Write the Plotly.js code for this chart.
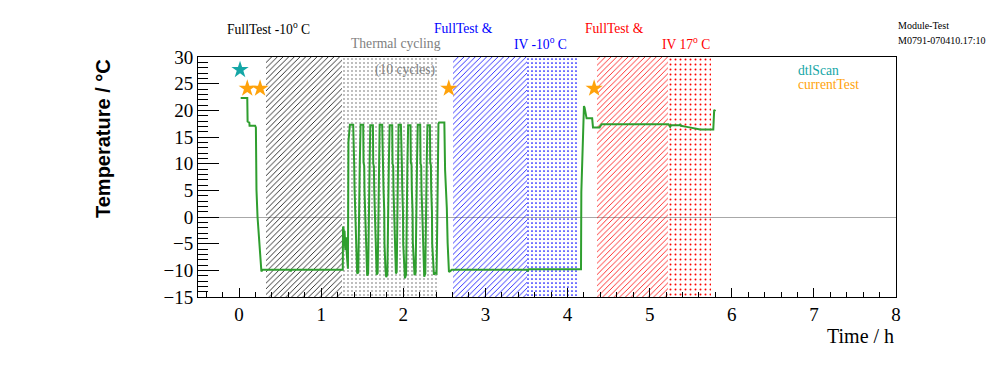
<!DOCTYPE html>
<html>
<head>
<meta charset="utf-8">
<script src="https://cdn.plot.ly/plotly-3.0.1.min.js"></script>
<style>html,body{margin:0;padding:0;background:#fff;}#chart{width:996px;height:372px;}</style>
</head>
<body>
<div id="chart"></div>
<script>
// ---- data ----
var timeH = [
  0.020, 0.100, 0.104, 0.125, 0.128, 0.196, 0.205, 0.207, 0.212, 0.225, 0.245, 0.258, 0.272, 0.285, 0.620, 0.630, 0.640, 1.255,
  1.263, 1.266, 1.274, 1.278, 1.285, 1.294, 1.303, 1.312, 1.318, 1.326, 1.332, 1.350,
  1.390, 1.394, 1.402, 1.406, 1.415, 1.418, 1.430, 1.438, 1.452, 1.458, 1.470, 1.480,
  1.512, 1.516, 1.524, 1.528, 1.537, 1.540, 1.552, 1.560, 1.572, 1.578, 1.590, 1.598,
  1.630, 1.634, 1.642, 1.646, 1.654, 1.657, 1.668, 1.676, 1.688, 1.694, 1.704, 1.712,
  1.743, 1.747, 1.755, 1.759, 1.768, 1.771, 1.783, 1.792, 1.806, 1.812, 1.824, 1.834,
  1.865, 1.869, 1.877, 1.881, 1.889, 1.892, 1.903, 1.910, 1.920, 1.926, 1.934, 1.942,
  1.971, 1.975, 1.983, 1.987, 1.996, 1.999, 2.011, 2.020, 2.034, 2.040, 2.050, 2.059,
  2.088, 2.092, 2.100, 2.104, 2.113, 2.116, 2.128, 2.137, 2.150, 2.156, 2.167, 2.176,
  2.206, 2.210, 2.218, 2.222, 2.231, 2.234, 2.246, 2.255, 2.268, 2.274, 2.285, 2.294,
  2.324, 2.328, 2.336, 2.340, 2.349, 2.352, 2.364, 2.373, 2.392, 2.405, 2.412, 2.420, 2.428, 2.436,
  2.500, 2.509, 2.530, 2.540, 2.556, 2.575, 2.590, 3.505, 3.515, 3.525, 4.164,
  4.168, 4.186, 4.200, 4.208, 4.218, 4.232, 4.300, 4.305, 4.310, 4.390, 4.415,
  5.229, 5.250, 5.262, 5.365, 5.371, 5.380, 5.453, 5.575, 5.615, 5.775, 5.786, 5.800
];
var tempC = [
  22.3, 22.3, 17.9, 17.7, 17.1, 17.1, 16.8, 13.2, 5.1, 0.0, -5.0, -8.7, -10.2, -9.9, -9.9, -10.2, -9.9, -9.9,
  -9.9, -1.8, -2.3, -5.5, -2.6, -6.2, -3.8, -7.0, -9.4, -9.7, 14.1, 17.3,
  17.3, 10.1, 9.8, 5.5, 1.0, -4.9, -9.4, -10.6, -10.4, 0.2, 10.0, 17.3,
  17.3, 10.2, 9.6, 4.8, 0.5, -5.2, -9.6, -11.0, -10.6, -0.5, 9.8, 17.2,
  17.2, 10.0, 9.5, 5.0, 0.8, -4.6, -9.2, -10.8, -10.5, 0.0, 10.1, 17.3,
  17.3, 10.3, 9.7, 5.2, 1.2, -5.0, -9.8, -11.3, -10.7, 0.4, 10.0, 17.2,
  17.2, 10.0, 9.6, 4.9, 0.6, -4.8, -9.5, -10.6, -10.3, 0.1, 9.9, 17.3,
  17.3, 10.1, 9.7, 5.3, 0.9, -5.1, -9.7, -11.5, -10.8, -0.2, 10.0, 17.2,
  17.2, 10.2, 9.8, 5.0, 1.1, -4.7, -9.3, -10.9, -10.5, 0.3, 10.1, 17.3,
  17.3, 10.0, 9.6, 5.1, 0.7, -4.9, -9.6, -11.2, -10.6, 0.0, 9.9, 17.2,
  17.2, 10.1, 9.7, 5.0, 0.9, -5.0, -9.5, -10.8, -10.5, -10.6, -3.0, 10.0, 17.5, 17.7,
  17.7, 8.8, 1.7, -4.9, -10.3, -10.1, -9.9, -9.9, -10.2, -9.8, -9.8,
  4.7, 16.9, 20.8, 20.5, 19.9, 18.5, 18.5, 16.9, 16.8, 16.8, 17.4,
  17.4, 16.9, 17.2, 17.2, 17.4, 17.1, 16.9, 16.6, 16.4, 16.4, 20.1, 19.8
];

var regionStart = [0.325, 1.251, 2.603, 3.504, 4.357, 5.229];
var regionEnd   = [1.251, 2.430, 3.504, 4.141, 5.229, 5.745];
var regionShape = ['/', '.', '/', '.', '/', '.'];
var regionColor = ['#000000', '#a0a0a0', '#0000ff', '#0000ff', '#ff0000', '#ff0000'];

var dtlScanTime = [0.012];
var dtlScanTemp = [27.6];
var currentTestTime = [0.100, 0.256, 2.554, 4.324];
var currentTestTemp = [24.1, 24.1, 24.1, 24.1];

var xTickVals = [0, 1, 2, 3, 4, 5, 6, 7, 8];
var yTickVals = [-15, -10, -5, 0, 5, 10, 15, 20, 25, 30];

// ---- build ----
var barX = [], barW = [], barY = [], barBase = [];
for (var i = 0; i < regionStart.length; i++) {
  barX.push((regionStart[i] + regionEnd[i]) / 2);
  barW.push(regionEnd[i] - regionStart[i]);
  barBase.push(-15);
  barY.push(45);
}

var serif = 'Liberation Serif, Times New Roman, serif';

var traces = [
  {
    type: 'bar', x: barX, y: barY, base: barBase, width: barW,
    marker: {
      color: 'rgba(0,0,0,0)',
      line: {width: 0},
      pattern: {shape: regionShape, fgcolor: regionColor, bgcolor: 'rgba(0,0,0,0)', fgopacity: 1,
                size: [4, 4, 4, 4, 4, 5], solidity: [0.2, 0.16, 0.2, 0.14, 0.2, 0.12], fillmode: 'overlay'}
    },
    hoverinfo: 'skip', showlegend: false
  },
  {
    type: 'scatter', mode: 'lines', x: timeH, y: tempC,
    line: {color: '#2f9e2f', width: 2}, showlegend: false
  },
  {
    type: 'scatter', mode: 'markers', x: dtlScanTime, y: dtlScanTemp,
    marker: {symbol: 'star', size: 13, color: '#14a6a6'}, showlegend: false
  },
  {
    type: 'scatter', mode: 'markers', x: currentTestTime, y: currentTestTemp,
    marker: {symbol: 'star', size: 13, color: '#ffa20a'}, showlegend: false
  }
];

function ann(text, x, y, color, size, xanchor) {
  return {text: text, xref: 'paper', yref: 'paper', x: x, y: y, showarrow: false,
          xanchor: xanchor || 'center', yanchor: 'middle',
          font: {family: serif, size: size, color: color}};
}

var annotations = [
  ann('FullTest -10<sup>o</sup> C', 0.1014, 1.1196, '#000000', 13.6),
  ann('Thermal cycling', 0.284, 1.057, '#808080', 13.6),
  ann('(10 cycles)', 0.2966, 0.9458, '#808080', 13.6),
  ann('FullTest &amp;', 0.3808, 1.1196, '#0000ff', 13.6),
  ann('IV -10<sup>o</sup> C', 0.4904, 1.057, '#0000ff', 13.6),
  ann('FullTest &amp;', 0.597, 1.1196, '#ff0000', 13.6),
  ann('IV 17<sup>o</sup> C', 0.6996, 1.057, '#ff0000', 13.6),
  ann('Module-Test', 1.0, 1.1304, '#000000', 10, 'left'),
  ann('M0791-070410.17:10', 1.0, 1.0679, '#000000', 10, 'left'),
  ann('dtlScan', 0.8567, 0.9458, '#14a6a6', 13.6, 'left'),
  ann('currentTest', 0.8567, 0.8875, '#ffa20a', 13.6, 'left'),
  ann('Time / h', 1.0, -0.1625, '#000000', 20, 'right'),
  {text: '<b>Temperature / °C</b>', xref: 'paper', yref: 'paper', x: -0.1361, y: 0.6583,
   showarrow: false, textangle: -90, xanchor: 'center', yanchor: 'middle',
   font: {family: 'Liberation Sans, Arial, sans-serif', size: 20, color: '#000000'}}
];

var layout = {
  width: 996, height: 372,
  margin: {l: 198, r: 100, t: 57, b: 75, pad: 0},
  paper_bgcolor: '#ffffff', plot_bgcolor: '#ffffff',
  showlegend: false, barmode: 'overlay', bargap: 0,
  font: {family: serif, size: 19, color: '#000000'},
  xaxis: {
    range: [-0.5, 8], tickmode: 'array', tickvals: xTickVals,
    ticks: 'inside', ticklen: 9, tickcolor: '#000', tickwidth: 1,
    minor: {dtick: 0.2, tick0: 0, ticks: 'inside', ticklen: 5, tickcolor: '#000', showgrid: false},
    showgrid: false, zeroline: false, showline: true, mirror: true, linecolor: '#000', linewidth: 1,
    tickfont: {family: serif, size: 19, color: '#000'}
  },
  yaxis: {
    range: [-15, 30], tickmode: 'array', tickvals: yTickVals,
    ticks: 'inside', ticklen: 21, tickcolor: '#000', tickwidth: 1,
    minor: {dtick: 1, tick0: 0, ticks: 'inside', ticklen: 10, tickcolor: '#000', showgrid: false},
    showgrid: false, zeroline: true, zerolinecolor: '#a8a8a8', zerolinewidth: 1,
    showline: true, mirror: true, linecolor: '#000', linewidth: 1,
    tickfont: {family: serif, size: 19, color: '#000'}
  },
  annotations: annotations
};

Plotly.newPlot('chart', traces, layout, {displayModeBar: false, staticPlot: true});
</script>
</body>
</html>
